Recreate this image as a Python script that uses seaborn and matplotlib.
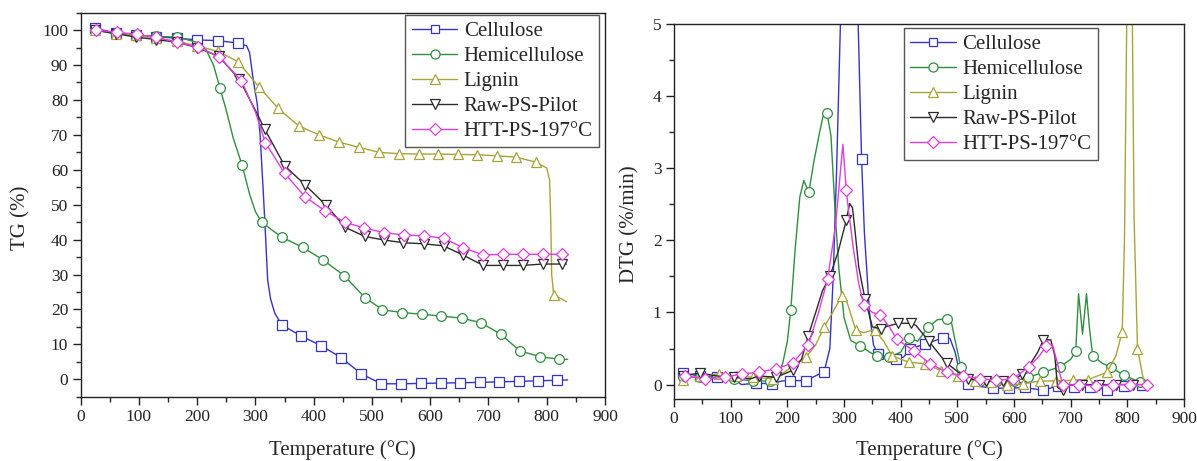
import numpy as np
import pandas as pd
import matplotlib
matplotlib.use("Agg")
import matplotlib.pyplot as plt
from matplotlib.lines import Line2D
from matplotlib.ticker import MultipleLocator
import seaborn as sns

# ---------------- TG curves (mass %, vs temperature °C) ----------------
# *_mk flags mark the points that carry a symbol
cel_tg_T = [25, 60, 95, 130, 165, 200, 235, 270, 285, 290, 296, 303, 308, 313, 316, 321, 326, 333, 345,
            378, 413, 447, 482, 516, 550, 585, 618, 652, 685, 718, 752, 785, 818, 836]
cel_tg = [100.5, 99.2, 98.6, 98.1, 97.7, 97.2, 97.0, 96.3, 95.5, 93.5, 86.0, 79.0, 70.0, 55.0, 45.6, 28.4, 23.0, 19.0, 15.6,
          12.4, 9.6, 6.2, 1.5, -1.3, -1.3, -1.2, -1.1, -1.0, -0.9, -0.75, -0.6, -0.45, -0.3, -0.2]
cel_tg_mk = [1, 1, 1, 1, 1, 1, 1, 1, 0, 0, 0, 0, 0, 0, 0, 0, 0, 0, 1,
             1, 1, 1, 1, 1, 1, 1, 1, 1, 1, 1, 1, 1, 1, 0]

hem_tg_T = [25, 60, 95, 130, 166, 200, 215, 228, 239, 250, 262, 277, 290, 300, 311, 345, 381, 416, 452, 488,
            518, 552, 586, 619, 654, 687, 721, 754, 788, 821, 836]
hem_tg = [100.0, 99.0, 98.5, 98.2, 98.0, 96.5, 94.5, 90.0, 83.5, 77.0, 69.0, 61.4, 53.0, 48.0, 44.9, 40.7, 37.8, 34.2, 29.7, 23.4,
          19.9, 19.1, 18.6, 18.1, 17.5, 16.2, 12.9, 8.1, 6.5, 5.7, 5.7]
hem_tg_mk = [1, 1, 1, 1, 1, 0, 0, 0, 1, 0, 0, 1, 0, 0, 1, 1, 1, 1, 1, 1,
             1, 1, 1, 1, 1, 1, 1, 1, 1, 1, 0]

lig_tg_T = [25, 60, 95, 130, 166, 200, 236, 270, 306, 339, 374, 409, 444, 478, 512, 547, 581, 614, 648, 681,
            715, 748, 781, 800, 805, 807, 808.5, 812, 820, 834]
lig_tg = [100.0, 99.0, 98.5, 97.7, 96.8, 95.5, 93.9, 91.0, 83.7, 77.6, 72.6, 70.0, 67.9, 66.4, 65.0, 64.6, 64.5, 64.5, 64.4, 64.3,
          64.0, 63.6, 62.2, 60.5, 57.0, 45.0, 30.0, 24.2, 23.5, 22.2]
lig_tg_mk = [1, 1, 1, 1, 1, 1, 1, 1, 1, 1, 1, 1, 1, 1, 1, 1, 1, 1, 1, 1,
             1, 1, 1, 0, 0, 0, 0, 1, 0, 0]

raw_tg_T = [25, 60, 95, 130, 166, 200, 237, 272, 300, 316, 350, 385, 421, 454, 488, 520, 554, 589, 623, 656,
            691, 725, 759, 793, 826, 834]
raw_tg = [100.0, 99.0, 98.0, 97.3, 96.5, 95.0, 92.5, 86.0, 77.0, 71.6, 61.2, 55.7, 49.9, 43.5, 40.9, 39.9, 39.1, 38.8, 38.2, 35.6,
          32.6, 32.6, 32.6, 33.0, 33.0, 33.0]
raw_tg_mk = [1, 1, 1, 1, 1, 1, 1, 1, 0, 1, 1, 1, 1, 1, 1, 1, 1, 1, 1, 1,
             1, 1, 1, 1, 1, 0]

htt_tg_T = [26, 62, 96, 130, 166, 202, 238, 276, 300, 317, 350, 385, 419, 453, 487, 521, 555, 589, 623, 656,
            691, 725, 759, 794, 827, 834]
htt_tg = [100.0, 99.4, 98.8, 97.9, 96.5, 95.1, 92.3, 85.5, 76.5, 67.8, 59.0, 52.3, 48.3, 45.0, 43.3, 42.0, 41.3, 41.1, 40.4, 37.7,
          35.6, 35.8, 35.8, 35.8, 35.8, 35.8]
htt_tg_mk = [1, 1, 1, 1, 1, 1, 1, 1, 0, 1, 1, 1, 1, 1, 1, 1, 1, 1, 1, 1,
             1, 1, 1, 1, 1, 0]

# ---------------- DTG curves (%/min, vs temperature °C) ----------------
cel_dtg_T = [15, 45, 75, 105, 119, 145, 173, 190, 204, 233, 265, 275, 281, 287, 293, 302, 312, 320, 325, 331,
             336, 345, 352, 360, 375, 391, 405, 417, 443, 475, 487, 496, 502, 510, 519, 533, 563, 592, 619, 651,
             677, 706, 735, 765, 794, 826, 835]
cel_dtg = [0.16, 0.12, 0.10, 0.08, 0.0, 0.02, 0.01, 0.05, 0.055, 0.055, 0.18, 0.5, 1.5, 3.0, 4.8, 7.5, 8.0, 6.5, 5.0, 3.13,
           2.1, 1.0, 0.55, 0.42, 0.38, 0.36, 0.38, 0.5, 0.56, 0.65, 0.64, 0.45, 0.24, 0.12, 0.01, -0.02, -0.05, -0.05, -0.04, -0.08,
           -0.02, -0.03, -0.03, -0.07, -0.02, 0.0, 0.0]
cel_dtg_mk = [1, 1, 1, 0, 0, 1, 1, 0, 1, 1, 1, 0, 0, 0, 0, 0, 0, 0, 0, 1,
              0, 0, 0, 1, 0, 1, 0, 1, 1, 1, 0, 0, 0, 0, 1, 0, 1, 1, 1, 1,
              1, 1, 1, 1, 1, 1, 0]

hem_dtg_T = [15, 45, 75, 105, 140, 170, 185, 192, 200, 206, 214, 222, 229, 238, 247, 257, 263, 270, 277, 285,
             291, 300, 312, 329, 345, 358, 380, 400, 415, 430, 449, 465, 481, 490, 495, 506, 519, 540, 570, 600,
             625, 652, 682, 700, 709, 714, 721, 728, 733, 739, 755, 771, 794, 823, 835]
hem_dtg = [0.1, 0.1, 0.1, 0.08, 0.05, 0.05, 0.15, 0.3, 0.6, 1.03, 1.9, 2.6, 2.83, 2.67, 3.1, 3.5, 3.72, 3.77, 3.45, 2.3,
           1.6, 0.93, 0.61, 0.54, 0.45, 0.4, 0.38, 0.45, 0.65, 0.6, 0.8, 0.9, 0.91, 0.85, 0.65, 0.25, 0.08, 0.05, 0.05, 0.05,
           0.1, 0.17, 0.25, 0.35, 0.46, 1.26, 0.7, 1.26, 0.8, 0.4, 0.3, 0.24, 0.13, 0.03, 0.02]
hem_dtg_mk = [1, 1, 0, 1, 1, 1, 0, 0, 0, 1, 0, 0, 0, 1, 0, 0, 0, 1, 0, 0,
              0, 0, 0, 1, 0, 1, 1, 0, 1, 0, 1, 0, 1, 0, 0, 1, 0, 1, 1, 1,
              1, 1, 1, 0, 1, 0, 0, 0, 0, 1, 0, 1, 1, 1, 0]

lig_dtg_T = [15, 45, 80, 110, 140, 175, 200, 215, 233, 250, 265, 280, 296, 305, 313, 321, 335, 354, 370, 385,
             414, 443, 472, 502, 531, 560, 587, 616, 646, 675, 704, 731, 764, 780, 791, 795, 799, 803, 806, 809,
             812, 818, 829, 835]
lig_dtg = [0.07, 0.12, 0.15, 0.12, 0.10, 0.08, 0.2, 0.3, 0.38, 0.55, 0.8, 1.0, 1.23, 1.15, 0.95, 0.75, 0.72, 0.76, 0.6, 0.4,
           0.31, 0.29, 0.19, 0.12, 0.05, 0.04, -0.01, 0.01, 0.05, 0.05, 0.06, 0.07, 0.17, 0.4, 0.73, 2.0, 5.0, 8.0, 6.5, 5.0,
           2.3, 0.5, 0.05, 0.0]
lig_dtg_mk = [1, 1, 1, 1, 1, 1, 0, 0, 1, 0, 1, 0, 1, 0, 0, 1, 0, 1, 0, 1,
              1, 1, 1, 1, 1, 1, 1, 1, 1, 1, 1, 1, 1, 0, 1, 0, 0, 0, 0, 0,
              0, 1, 0, 0]

raw_dtg_T = [15, 45, 75, 105, 135, 150, 180, 210, 225, 237, 250, 262, 275, 290, 304, 310, 315, 320, 326, 337,
             350, 366, 373, 396, 419, 427, 450, 465, 481, 502, 519, 550, 580, 600, 615, 630, 642, 652, 665, 672,
             677, 686, 700, 720, 750, 780, 810, 835]
raw_dtg = [0.12, 0.16, 0.12, 0.1, 0.08, 0.12, 0.1, 0.2, 0.35, 0.68, 1.0, 1.3, 1.5, 1.85, 2.28, 2.51, 2.45, 2.09, 1.63, 1.19,
           0.8, 0.77, 0.8, 0.85, 0.85, 0.82, 0.6, 0.45, 0.3, 0.17, 0.08, 0.05, 0.05, 0.06, 0.15, 0.3, 0.45, 0.62, 0.62, 0.4,
           -0.04, -0.08, 0.0, 0.0, 0.0, 0.0, 0.0, 0.0]
raw_dtg_mk = [1, 1, 0, 1, 0, 1, 1, 1, 0, 1, 0, 0, 1, 0, 1, 0, 0, 0, 0, 1,
              0, 1, 0, 1, 1, 0, 1, 0, 1, 0, 1, 1, 1, 0, 1, 0, 0, 1, 0, 0,
              0, 1, 0, 1, 1, 1, 1, 0]

htt_dtg_T = [20, 55, 90, 120, 150, 180, 210, 237, 255, 271, 285, 298, 304, 309, 317, 326, 335, 350, 364, 380,
             393, 423, 452, 481, 510, 540, 569, 598, 627, 645, 657, 668, 675, 686, 715, 745, 775, 805, 835]
htt_dtg = [0.12, 0.08, 0.1, 0.15, 0.17, 0.22, 0.3, 0.55, 1.0, 1.46, 2.2, 3.33, 2.7, 2.35, 1.86, 1.4, 1.11, 1.0, 0.97, 0.8,
           0.63, 0.47, 0.29, 0.17, 0.12, 0.08, 0.06, 0.08, 0.25, 0.4, 0.53, 0.55, 0.35, -0.01, 0.0, -0.02, 0.0, 0.0, 0.0]
htt_dtg_mk = [1, 1, 1, 1, 1, 1, 1, 1, 0, 1, 0, 0, 1, 0, 0, 0, 1, 0, 1, 0,
              1, 1, 1, 1, 1, 1, 1, 1, 1, 0, 1, 0, 0, 1, 1, 1, 1, 1, 1]

labels = ["Cellulose", "Hemicellulose", "Lignin", "Raw-PS-Pilot", "HTT-PS-197°C"]
colors = ["#3434C8", "#2F8F3F", "#A8A438", "#2A2A2A", "#E03CE0"]
markers = ["s", "o", "^", "v", "D"]
msizes = [6.5, 7.0, 7.5, 7.5, 6.5]

tg_series = [(cel_tg_T, cel_tg, cel_tg_mk), (hem_tg_T, hem_tg, hem_tg_mk), (lig_tg_T, lig_tg, lig_tg_mk),
             (raw_tg_T, raw_tg, raw_tg_mk), (htt_tg_T, htt_tg, htt_tg_mk)]
dtg_series = [(cel_dtg_T, cel_dtg, cel_dtg_mk), (hem_dtg_T, hem_dtg, hem_dtg_mk), (lig_dtg_T, lig_dtg, lig_dtg_mk),
              (raw_dtg_T, raw_dtg, raw_dtg_mk), (htt_dtg_T, htt_dtg, htt_dtg_mk)]

sns.set_theme(style="ticks")
plt.rcParams["font.family"] = ["Liberation Serif", "DejaVu Serif"]

fig = plt.figure(figsize=(11.97, 4.61), dpi=100)
ax1 = fig.add_axes([0.0674, 0.1395, 0.4380, 0.8330])
ax2 = fig.add_axes([0.5631, 0.1345, 0.4260, 0.8135])


def draw(ax, series):
    for (T, y, mk), c, m, ms in zip(series, colors, markers, msizes):
        df = pd.DataFrame({"T": T, "v": y})
        sns.lineplot(data=df, x="T", y="v", ax=ax, estimator=None, sort=False,
                     color=c, linewidth=1.0, marker=m, markersize=ms,
                     markevery=[bool(f) for f in mk], markerfacecolor="white",
                     markeredgecolor=c, markeredgewidth=0.9, legend=False)


draw(ax1, tg_series)
draw(ax2, dtg_series)

ax1.set_xlim(0, 900)
ax1.set_ylim(-5, 105)
ax1.yaxis.set_major_locator(MultipleLocator(10))
ax1.yaxis.set_minor_locator(MultipleLocator(5))
ax2.set_xlim(0, 900)
ax2.set_ylim(-0.2, 5)
ax2.yaxis.set_major_locator(MultipleLocator(1))
ax2.yaxis.set_minor_locator(MultipleLocator(0.5))

for ax in (ax1, ax2):
    ax.xaxis.set_major_locator(MultipleLocator(100))
    ax.xaxis.set_minor_locator(MultipleLocator(50))
    ax.tick_params(which="major", direction="out", length=6, width=1.0, labelsize=12.5, pad=3,
                   colors="#222222", top=False, right=False)
    ax.tick_params(which="minor", direction="out", length=3.5, width=1.0, top=False, right=False)
    for sp in ax.spines.values():
        sp.set_visible(True)
        sp.set_linewidth(1.0)
        sp.set_color("#222222")
    ax.set_xlabel("Temperature (°C)", fontsize=15)

ax1.set_ylabel("TG (%)", fontsize=15)
ax2.set_ylabel("DTG (%/min)", fontsize=15)
ax1.xaxis.set_label_coords(0.5, -0.113)
ax2.xaxis.set_label_coords(0.5, -0.110)
ax1.yaxis.set_label_coords(-0.095, 0.465)
ax2.yaxis.set_label_coords(-0.067, 0.467)

handles = [Line2D([], [], color=c, marker=m, markersize=ms - 0.5, markerfacecolor="white",
                  markeredgecolor=c, markeredgewidth=0.9, linewidth=1.0)
           for c, m, ms in zip(colors, markers, msizes)]
leg_kw = dict(fontsize=15, handlelength=2.2, labelspacing=0.26, borderpad=0.3,
              handletextpad=0.3, borderaxespad=0.0, fancybox=False, framealpha=1.0)
l1 = ax1.legend(handles, labels, loc="upper right", bbox_to_anchor=(0.5004, 0.9675),
                bbox_transform=fig.transFigure, **leg_kw)
l2 = ax2.legend(handles, labels, loc="upper left", bbox_to_anchor=(0.7552, 0.9393),
                bbox_transform=fig.transFigure, **leg_kw)
for lg in (l1, l2):
    lg.get_frame().set_edgecolor("#555555")
    lg.get_frame().set_linewidth(1.0)

fig.savefig("out.png", dpi=100, facecolor="white")
